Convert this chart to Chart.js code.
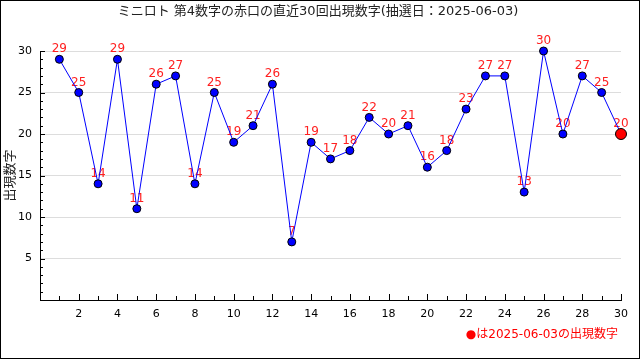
<!DOCTYPE html>
<html>
<head>
<meta charset="utf-8">
<script src="https://cdn.jsdelivr.net/npm/chart.js@4"></script>
<style>
  body { margin: 0; background: #fff; }
  canvas { display: block; }
</style>
</head>
<body>
<canvas id="chart" width="640" height="360"></canvas>
<script>
// data
const draws = [1,2,3,4,5,6,7,8,9,10,11,12,13,14,15,16,17,18,19,20,21,22,23,24,25,26,27,28,29,30];
const numbers = [29,25,14,29,11,26,27,14,25,19,21,26,7,19,17,18,22,20,21,16,18,23,27,27,13,30,20,27,25,20];
const titleText = 'ミニロト 第4数字の赤口の直近30回出現数字(抽選日：2025-06-03)';
const yTitle = '出現数字';
const noteText = '●は2025-06-03の出現数字';

const FONT = '"DejaVu Sans", "Noto Sans CJK JP", sans-serif';
const lastIdx = numbers.length - 1;

// extra drawing: frame, titles, value labels, tick marks
const decor = {
  id: 'decor',
  beforeDraw(chart) {
    const ctx = chart.ctx;
    ctx.save();
    ctx.fillStyle = '#fff';
    ctx.fillRect(0, 0, chart.width, chart.height);
    ctx.restore();
  },
  beforeDatasetsDraw(chart) {
    const ctx = chart.ctx;
    const meta = chart.getDatasetMeta(0);
    ctx.save();
    ctx.font = '12px ' + FONT;
    ctx.fillStyle = '#ff2020';
    ctx.textAlign = 'center';
    ctx.textBaseline = 'bottom';
    meta.data.forEach((pt, i) => {
      ctx.fillText(String(numbers[i]), pt.x, pt.y - 4);
    });
    ctx.restore();
  },
  afterDraw(chart) {
    const ctx = chart.ctx;
    const xs = chart.scales.x, ys = chart.scales.y;
    const area = chart.chartArea;
    ctx.save();
    // tick marks inside the plot (1px rects)
    ctx.fillStyle = '#000';
    for (let v = 1; v <= 30; v++) {
      const px = Math.round(xs.getPixelForValue(v));
      const lx = v % 2 === 0 ? 6 : 4;
      ctx.fillRect(px, Math.round(area.bottom) - lx, 1, lx);
      const py = Math.round(ys.getPixelForValue(v));
      const ly = v % 5 === 0 ? 5 : 3;
      ctx.fillRect(Math.round(area.left), py, ly, 1);
    }
    // frame
    ctx.strokeStyle = '#000';
    ctx.lineWidth = 1;
    ctx.strokeRect(0.5, 0.5, chart.width - 1, chart.height - 2);
    // title
    ctx.fillStyle = '#222';
    ctx.font = '13px ' + FONT;
    ctx.textAlign = 'center';
    ctx.textBaseline = 'middle';
    ctx.fillText(titleText, 318, 12);
    // y title
    ctx.save();
    ctx.translate(11, (area.top + area.bottom) / 2);
    ctx.rotate(-Math.PI / 2);
    ctx.fillText(yTitle, 0, 0);
    ctx.restore();
    // note
    ctx.fillStyle = '#ff0000';
    ctx.font = '12px ' + FONT;
    ctx.textAlign = 'right';
    ctx.fillText(noteText, 618, 335);
    ctx.restore();
  }
};

const data = {
  datasets: [{
    data: numbers.map((n, i) => ({ x: draws[i], y: n })),
    showLine: true,
    clip: false,
    borderColor: '#0000ff',
    borderWidth: 1,
    tension: 0,
    pointRadius: numbers.map((n, i) => i === lastIdx ? 5.5 : 4),
    pointBackgroundColor: numbers.map((n, i) => i === lastIdx ? '#ff0000' : '#0000ff'),
    pointBorderColor: '#000',
    pointBorderWidth: 1
  }]
};

const config = {
  type: 'line',
  data,
  options: {
    responsive: false,
    animation: false,
    events: [],
    layout: { padding: { top: 51, left: 0, right: 19, bottom: 0 } },
    plugins: {
      legend: { display: false },
      tooltip: { enabled: false }
    },
    scales: {
      x: {
        type: 'linear',
        min: 0,
        max: 30,
        afterFit: s => { s.height = 60; },
        grid: { display: false, drawTicks: false },
        border: { display: true, color: '#000', width: 1 },
        ticks: {
          stepSize: 2,
          padding: 8,
          maxRotation: 0,
          color: '#000',
          font: { family: FONT, size: 11 },
          callback: v => v === 0 ? null : v
        }
      },
      y: {
        min: 0,
        max: 30,
        afterFit: s => { s.width = 40; },
        grid: { color: '#dddddd', drawTicks: false },
        border: { display: true, color: '#000', width: 1 },
        ticks: {
          stepSize: 5,
          padding: 8,
          color: '#000',
          font: { family: FONT, size: 11 },
          callback: v => v === 0 ? null : v
        }
      }
    }
  },
  plugins: [decor]
};

const myChart = new Chart(document.getElementById('chart'), config);
</script>
</body>
</html>
